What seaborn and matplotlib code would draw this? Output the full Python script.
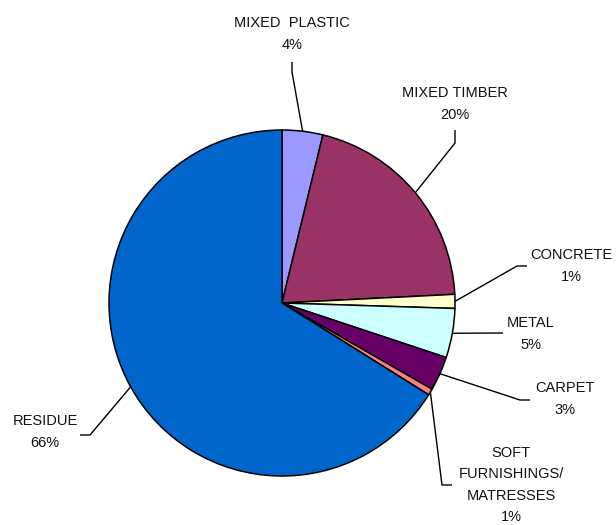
import numpy as np
import matplotlib
matplotlib.use("Agg")
import matplotlib.pyplot as plt
import seaborn as sns

# Waste composition shares (percent of total)
categories = ["MIXED  PLASTIC", "MIXED TIMBER", "CONCRETE", "METAL", "CARPET",
              "SOFT\nFURNISHINGS/\nMATRESSES", "RESIDUE"]
shares = [3.8, 20.4, 1.3, 4.6, 3.2, 0.6, 66.1]
colors = ["#9999FF", "#993366", "#FFFFCC", "#CCFFFF", "#660066", "#FF8080", "#0066CC"]

# Label placement (pixel space, origin top-left): text centre, and leader elbow path
label_xy = [(292, 34), (455, 104), (571, 266), (531, 334), (565, 399), (511, 485), (45, 432)]
leader_path = [
    [(292, 72), (292, 62)],
    [(455, 143), (455, 130)],
    [(517, 266), (527, 266)],
    [(503, 333)],
    [(520, 400), (530, 400)],
    [(442, 485), (452, 485)],
    [(90, 435), (80, 435)],
]

W, H = 616, 525
CX, CY, R = 282, 303, 173

sns.set_theme(style="white")
plt.rcParams["font.family"] = ["Liberation Sans", "DejaVu Sans"]

fig = plt.figure(figsize=(W / 100, H / 100), dpi=100)
ax = fig.add_axes([0, 0, 1, 1])
ax.set_xlim(0, W)
ax.set_ylim(0, H)
ax.set_aspect("equal")
ax.axis("off")

def py(y):
    return H - y

wedges, _ = ax.pie(shares, colors=colors, startangle=90, counterclock=False,
                   center=(CX, py(CY)), radius=R, frame=True,
                   wedgeprops=dict(edgecolor="black", linewidth=1.1))
ax.set_xlim(0, W)
ax.set_ylim(0, H)
ax.axis("off")

for w, name, val, (tx, ty), path in zip(wedges, categories, shares, label_xy, leader_path):
    mid = np.deg2rad((w.theta1 + w.theta2) / 2)
    ax_x = CX + R * np.cos(mid)
    ax_y = py(CY) + R * np.sin(mid)
    xs = [ax_x] + [p[0] for p in path]
    ys = [ax_y] + [py(p[1]) for p in path]
    ax.plot(xs, ys, color="black", linewidth=1.0, solid_capstyle="butt")
    ax.text(tx, py(ty), f"{name}\n{val:.0f}%", ha="center", va="center",
            fontsize=10.5, color="#111111", linespacing=1.65)

fig.savefig("out.png", dpi=100, facecolor="white")
